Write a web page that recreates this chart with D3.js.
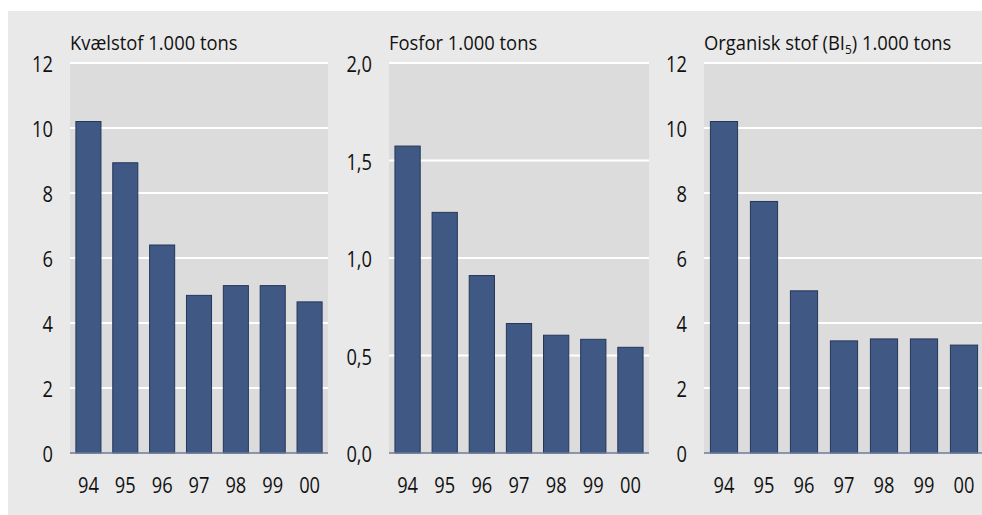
<!DOCTYPE html>
<html lang="da">
<head>
<meta charset="UTF-8">
<script src="https://cdnjs.cloudflare.com/ajax/libs/d3/7.8.5/d3.min.js"></script>
<style>
  body { margin: 0; background: #fff; }
  text { font-family: "Open Sans", "DejaVu Sans", sans-serif; fill: #111; }
</style>
</head>
<body>
<div id="chart"></div>
<script>
  // data
  var years = ["94", "95", "96", "97", "98", "99", "00"];
  var kvaelstof = [10.2, 8.93, 6.4, 4.85, 5.15, 5.15, 4.65];
  var fosfor = [1.574, 1.234, 0.91, 0.664, 0.604, 0.583, 0.542];
  var organisk = [10.2, 7.74, 4.99, 3.45, 3.51, 3.51, 3.32];
  var kvaelstofTicks = [0, 2, 4, 6, 8, 10, 12];
  var fosforTicks = [0, 0.5, 1, 1.5, 2];
  var organiskTicks = [0, 2, 4, 6, 8, 10, 12];

  var W = 982, H = 515;
  var comma = d3.formatLocale({decimal: ",", thousands: ".", grouping: [3], currency: ["", " kr."]});

  var panels = [
    {title: "Kvælstof 1.000 tons", values: kvaelstof, ticks: kvaelstofTicks, max: 12, fmt: d3.format("d"), x0: 70, x1: 328},
    {title: "Fosfor 1.000 tons", values: fosfor, ticks: fosforTicks, max: 2, fmt: comma.format(".1f"), x0: 389, x1: 649},
    {title: "Organisk stof (BI5) 1.000 tons", values: organisk, ticks: organiskTicks, max: 12, fmt: d3.format("d"), x0: 704, x1: 984}
  ];

  var svg = d3.select("#chart").append("svg")
      .attr("width", W)
      .attr("height", H);

  svg.append("rect")
      .attr("x", 8).attr("y", 11)
      .attr("width", W - 8).attr("height", H - 11)
      .attr("fill", "#e9e9e9");

  var plotTop = 63, plotBottom = 453;
  var tickScale = 0.87, titleScale = 0.92;

  function place(px, py, s) {
    return "translate(" + px + "," + py + ") scale(" + s + ",1)";
  }

  panels.forEach(function (p) {
    var x = d3.scaleBand().domain(years).range([p.x0, p.x1]).paddingInner(0.32).paddingOuter(0.16);
    var y = d3.scaleLinear().domain([0, p.max]).range([plotBottom, plotTop]);
    var g = svg.append("g");

    g.append("rect")
        .attr("x", p.x0).attr("y", plotTop)
        .attr("width", p.x1 - p.x0).attr("height", plotBottom - plotTop)
        .attr("fill", "#dcdcdc");

    // gridlines
    g.selectAll("line.grid")
        .data(p.ticks.filter(function (t) { return t > 0; }))
        .enter().append("line")
        .attr("class", "grid")
        .attr("x1", p.x0).attr("x2", p.x1)
        .attr("y1", function (d) { return y(d); })
        .attr("y2", function (d) { return y(d); })
        .attr("stroke", "#fff")
        .attr("stroke-width", 2);

    // y tick labels
    g.selectAll("text.ytick")
        .data(p.ticks)
        .enter().append("text")
        .attr("class", "ytick")
        .attr("transform", function (d) { return place(p.x0 - 17, y(d) + 9, tickScale); })
        .attr("text-anchor", "end")
        .style("font-size", "21px")
        .text(function (d) { return p.fmt(d); });

    g.selectAll("rect.bar")
        .data(p.values)
        .enter().append("rect")
        .attr("class", "bar")
        .attr("x", function (d, i) { return x(years[i]); })
        .attr("y", function (d) { return y(d); })
        .attr("width", x.bandwidth())
        .attr("height", function (d) { return plotBottom - y(d); })
        .attr("fill", "#3f5884")
        .attr("stroke", "#26365a")
        .attr("stroke-width", 1);

    g.append("line")
        .attr("x1", p.x0).attr("x2", p.x1)
        .attr("y1", plotBottom).attr("y2", plotBottom)
        .attr("stroke", "#6f7d98")
        .attr("stroke-width", 1.5);

    g.selectAll("text.xtick")
        .data(years)
        .enter().append("text")
        .attr("class", "xtick")
        .attr("transform", function (d) { return place(x(d) + x.bandwidth() / 2, 493, tickScale); })
        .attr("text-anchor", "middle")
        .style("font-size", "21px")
        .text(function (d) { return d; });

    var t = g.append("text")
        .attr("transform", place(p.x0, 49.5, titleScale))
        .style("font-size", "20px");
    if (p.title.indexOf("BI5") >= 0) {
      var parts = p.title.split("BI5");
      t.append("tspan").text(parts[0] + "BI");
      t.append("tspan").attr("dy", 4).style("font-size", "13px").text("5");
      t.append("tspan").attr("dy", -4).text(parts[1]);
    } else {
      t.text(p.title);
    }
  });
</script>
</body>
</html>
